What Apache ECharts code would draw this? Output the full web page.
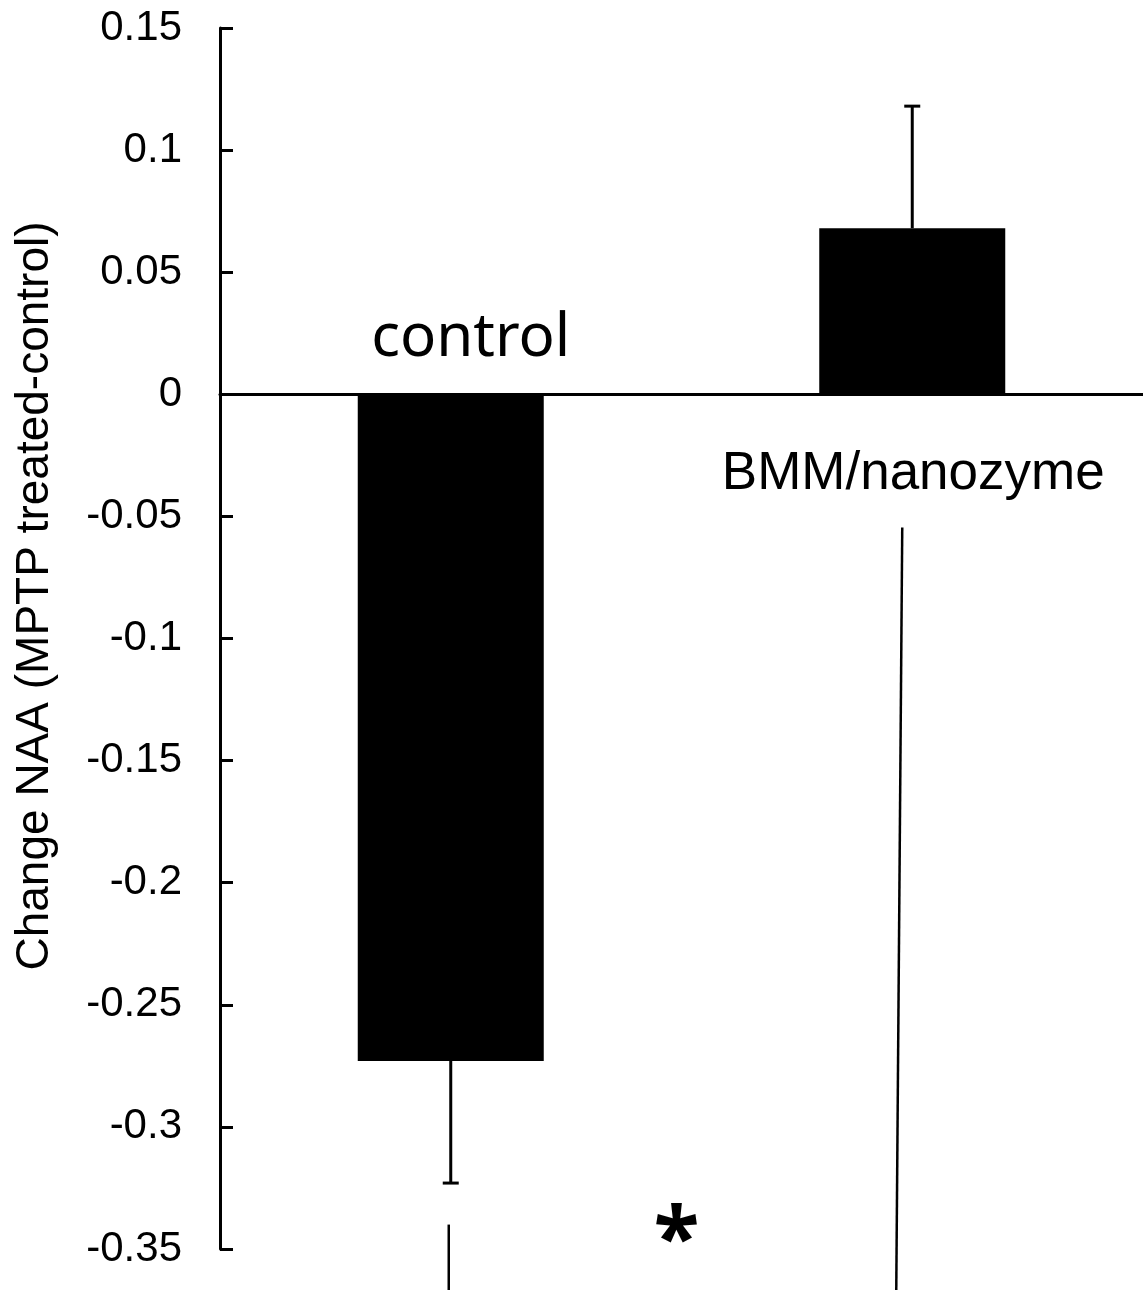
<!DOCTYPE html>
<html>
<head>
<meta charset="utf-8">
<script src="https://cdn.jsdelivr.net/npm/echarts@6/dist/echarts.min.js"></script>
<style>
html,body{margin:0;padding:0;background:#fff;}
#chart{width:1143px;height:1292px;}
</style>
</head>
<body>
<div id="chart"></div>
<script>
const categories = ['control', 'BMM/nanozyme'];
const values = [-0.273, 0.068];
const errors = [0.050, 0.050];
const yLabel = 'Change NAA (MPTP treated-control)';
const yMin = -0.35, yMax = 0.15, yStep = 0.05;

const chart = echarts.init(document.getElementById('chart'), null, {renderer: 'canvas'});

const errData = values.map((v, i) => [i, v, errors[i]]);

const option = {
  backgroundColor: '#fff',
  animation: false,
  grid: {left: 220, right: 0, top: 28, bottom: 43, containLabel: false},
  xAxis: {
    type: 'category',
    data: categories,
    axisLine: {show: true, onZero: true, lineStyle: {color: '#000', width: 3}},
    axisTick: {show: false},
    axisLabel: {show: false},
    splitLine: {show: false}
  },
  yAxis: {
    type: 'value',
    min: yMin, max: yMax, interval: yStep,
    axisLine: {show: true, lineStyle: {color: '#000', width: 3}},
    axisTick: {show: true, inside: true, length: 13, lineStyle: {color: '#000', width: 3}},
    axisLabel: {
      margin: 38, color: '#000', fontSize: 42, fontFamily: 'Liberation Sans',
      formatter: v => String(parseFloat(Number(v).toFixed(2)))
    },
    splitLine: {show: false}
  },
  series: [
    {
      type: 'bar',
      data: values,
      barWidth: 186,
      itemStyle: {color: '#000'},
      z: 2
    },
    {
      type: 'custom',
      data: errData,
      z: 3,
      renderItem: function (params, api) {
        const x = api.value(0), v = api.value(1), e = api.value(2);
        const end = v >= 0 ? v + e : v - e;
        const p0 = api.coord([x, v]);
        const p1 = api.coord([x, end]);
        const half = 8;
        const style = {stroke: '#000', lineWidth: 3};
        return {
          type: 'group',
          children: [
            {type: 'line', shape: {x1: p0[0], y1: p0[1], x2: p1[0], y2: p1[1]}, style: style},
            {type: 'line', shape: {x1: p1[0] - half, y1: p1[1], x2: p1[0] + half, y2: p1[1]}, style: style}
          ]
        };
      }
    }
  ]
};
chart.setOption(option);

// annotations anchored to data coordinates
const px = (c, v) => chart.convertToPixel({gridIndex: 0}, [c, v]);
const pCtrlLbl = px(0, 0);
const pBmmLbl = px(1, 0);
const pLeftTop = px(0, -0.34);
const pRightTop = px(1, -0.0545);
const starX = (pLeftTop[0] + pRightTop[0]) / 2;

chart.setOption({
  graphic: [
    {
      type: 'text', x: 35, y: 596, rotation: Math.PI / 2,
      style: {text: yLabel, fill: '#000', font: '46px "Liberation Sans"', textAlign: 'center', textVerticalAlign: 'middle'}
    },
    {
      type: 'text', x: pCtrlLbl[0] + 20, y: 369,
      style: {text: categories[0], fill: '#000', font: '60px "Noto Sans"', textAlign: 'center', textVerticalAlign: 'bottom'}
    },
    {
      type: 'text', x: pBmmLbl[0] + 1, y: 474,
      style: {text: categories[1], fill: '#000', font: '53px "Liberation Sans"', textAlign: 'center', textVerticalAlign: 'middle'}
    },
    {
      type: 'text', x: starX - 5, y: 1243,
      style: {text: '*', fill: '#000', font: 'bold 84px "Noto Sans"', textAlign: 'center', textVerticalAlign: 'middle'}
    },
    {
      type: 'line', shape: {x1: pLeftTop[0] - 2, y1: pLeftTop[1], x2: pLeftTop[0] - 2, y2: 1290},
      style: {stroke: '#000', lineWidth: 2.5}
    },
    {
      type: 'line', shape: {x1: pRightTop[0] - 10, y1: pRightTop[1], x2: pRightTop[0] - 16, y2: 1290},
      style: {stroke: '#000', lineWidth: 2.5}
    }
  ]
});
</script>
</body>
</html>
